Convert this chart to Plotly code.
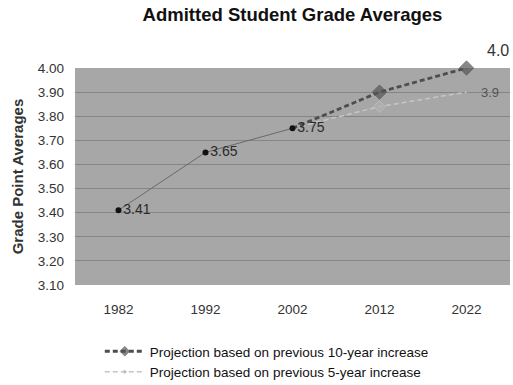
import plotly.graph_objects as go

# Admitted student grade point averages by year
years = ["1982", "1992", "2002", "2012", "2022"]
actual_years = ["1982", "1992", "2002"]
actual_gpa = [3.41, 3.65, 3.75]

proj10_years = ["2002", "2012", "2022"]
proj10_gpa = [3.75, 3.90, 4.0]

proj5_years = ["2002", "2012", "2022"]
proj5_gpa = [3.75, 3.84, 3.9]

y_ticks = [3.10, 3.20, 3.30, 3.40, 3.50, 3.60, 3.70, 3.80, 3.90, 4.00]

FONT = "Arial, Liberation Sans, sans-serif"

fig = go.Figure()

# 5-year projection (light dashed)
fig.add_trace(go.Scatter(
    x=proj5_years, y=proj5_gpa, mode="lines+markers",
    name="Projection based on previous 5-year increase",
    line=dict(color="#c6c6c6", width=1.5, dash="5px,3px"),
    marker=dict(symbol="diamond", size=[0, 9, 0], color="#b0b0b0"),
    cliponaxis=False,
))

# 10-year projection (dark dashed)
fig.add_trace(go.Scatter(
    x=proj10_years, y=proj10_gpa, mode="lines+markers",
    name="Projection based on previous 10-year increase",
    line=dict(color="#4e4e4e", width=2.8, dash="5px,3px"),
    marker=dict(symbol="diamond", size=[0, 11, 11], color="#555555"),
    cliponaxis=False,
))

# Observed averages
fig.add_trace(go.Scatter(
    x=actual_years, y=actual_gpa, mode="lines+markers+text",
    showlegend=False,
    line=dict(color="#6a6a6a", width=1),
    marker=dict(symbol="circle", size=6, color="#111111"),
    text=[f"{v:.2f}" for v in actual_gpa],
    textposition="middle right",
    textfont=dict(family=FONT, size=14, color="#2a2a2a"),
    cliponaxis=False,
))

# End-of-projection value labels (category index for the last year)
last = years.index(proj10_years[-1])
fig.add_annotation(x=last, y=proj10_gpa[-1], text=f"{proj10_gpa[-1]:.1f}",
                   showarrow=False, xanchor="left", yanchor="bottom",
                   xshift=18, yshift=7,
                   font=dict(family=FONT, size=16, color="#333333"))
fig.add_annotation(x=last, y=proj5_gpa[-1], text=f"{proj5_gpa[-1]:.1f}",
                   showarrow=False, xanchor="left", yanchor="middle",
                   xshift=12, yshift=0,
                   font=dict(family=FONT, size=13, color="#555555"))

fig.update_layout(
    width=513, height=385,
    margin=dict(l=75, r=3, t=68, b=100, autoexpand=False),
    paper_bgcolor="white",
    plot_bgcolor="#a7a7a7",
    title=dict(text="<b>Admitted Student Grade Averages</b>",
               x=0.5, xref="paper", xanchor="center",
               y=0.963, yanchor="middle",
               font=dict(family=FONT, size=18.5, color="#111111")),
    font=dict(family=FONT),
    showlegend=True,
    legend=dict(
        x=0.057, y=-0.235, xanchor="left", yanchor="top",
        orientation="v", traceorder="reversed",
        font=dict(family=FONT, size=13.5, color="#111111"),
        bgcolor="rgba(0,0,0,0)", itemwidth=40, tracegroupgap=0,
    ),
    xaxis=dict(
        type="category", categoryorder="array", categoryarray=years,
        range=[-0.5, len(years) - 0.5],
        showgrid=False, showline=False, zeroline=False,
        ticks="", ticklabelstandoff=14,
        tickfont=dict(family=FONT, size=13.5, color="#333333"),
    ),
    yaxis=dict(
        range=[3.10, 4.00], tickvals=y_ticks, tickformat=".2f",
        showgrid=True, gridcolor="#858585", gridwidth=1.2,
        zeroline=False, showline=False, ticks="",
        ticklabelstandoff=10,
        tickfont=dict(family=FONT, size=13.5, color="#333333"),
        title=dict(text="<b>Grade Point Averages</b>", standoff=10,
                   font=dict(family=FONT, size=15, color="#333333")),
    ),
)

fig.write_html("out.html")
